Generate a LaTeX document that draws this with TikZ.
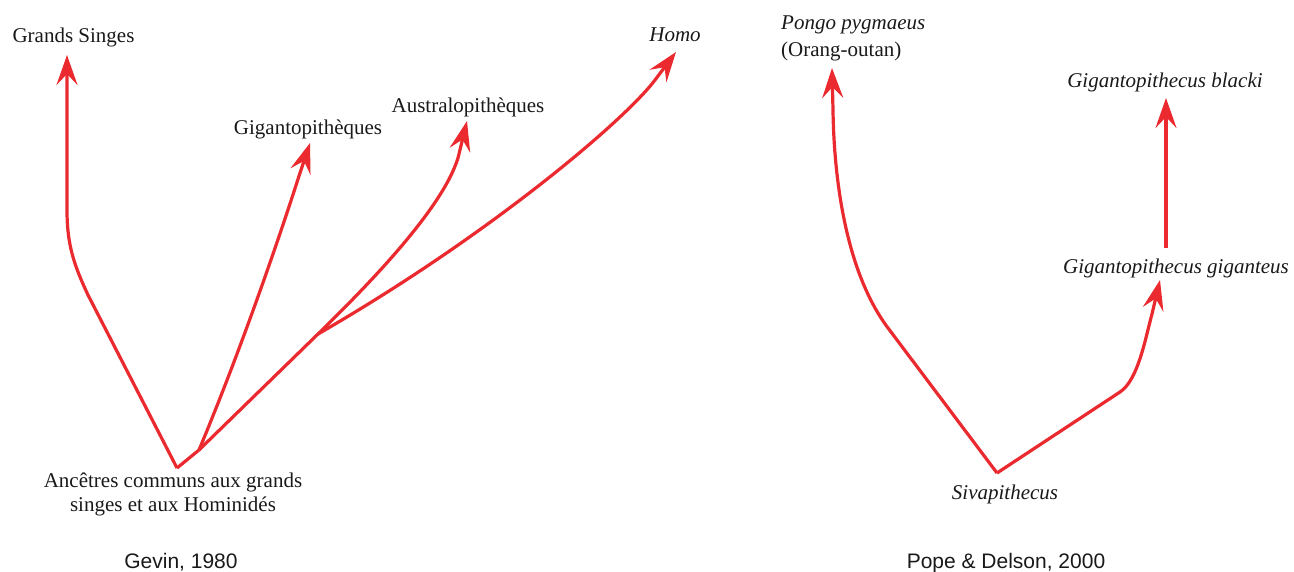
\documentclass[tikz,border=0pt]{standalone}
\usepackage{fontspec}
\setmainfont{Liberation Serif}
\newfontfamily\capfont{Liberation Sans}
\usetikzlibrary{arrows.meta}
\definecolor{arr}{RGB}{234,42,46}
\definecolor{txt}{RGB}{25,25,25}
\tikzset{
  branch/.style={draw=arr, line width=3.2pt, line join=round},
  tipped/.style={branch, -{Stealth[length=30pt, width=21pt, inset=11pt]}},
  lbl/.style={inner sep=0pt, anchor=base, text=txt, font=\fontsize{21}{24}\selectfont},
  ilbl/.style={lbl, font=\fontsize{21}{24}\selectfont\itshape},
  captionlbl/.style={inner sep=0pt, anchor=base, text=txt, font=\capfont\fontsize{21}{24}\selectfont}
}
\begin{document}
\begin{tikzpicture}[x=1pt, y=-1pt]
\useasboundingbox (0,0) rectangle (1294,572);
% ---------- left tree (Gevin 1980) ----------
\node[lbl] (gs) at (73.5,43) {Grands Singes};
\node[lbl] (gig) at (308,135) {Gigantopithèques};
\node[lbl] (aus) at (468,113) {Australopithèques};
\node[ilbl] (homo) at (675,42) {Homo};
\node[lbl, align=center] (anc) at (173,511) {Ancêtres communs aux grands\\singes et aux Hominidés};
\node[captionlbl] (gevin) at (181,568) {Gevin, 1980};

\coordinate (root) at (177,468);
\coordinate (j1) at (199,450);
\coordinate (j2) at (318,334);
\coordinate (gsbend) at (88,295);
\coordinate (gsup) at (67,210);
\coordinate (gstip) at (67,55);
\coordinate (gigpre) at (299,176);
\coordinate (gigtip) at (310,143);
\coordinate (auspre) at (458,158);
\coordinate (austip) at (467,121);
\coordinate (homopre) at (655,80);
\coordinate (homotip) at (676,52);

\draw[tipped] (root) -- (gsbend) .. controls (74,265) and (67,245) .. (gsup) -- (gstip);
\draw[branch] (root) -- (j1);
\draw[tipped] (j1) .. controls (245,340) and (285,220) .. (gigpre) -- (gigtip);
\draw[branch] (j1) -- (j2);
\draw[tipped] (j2) .. controls (365,288) and (442,210) .. (auspre) -- (austip);
\draw[tipped] (j2) .. controls (490,235) and (625,120) .. (homopre) -- (homotip);

% ---------- right tree (Pope & Delson 2000) ----------
\node[ilbl, anchor=base west] (pongo) at (781,30) {Pongo pygmaeus};
\node[lbl, anchor=base west] (orang) at (781,57) {(Orang-outan)};
\node[ilbl] (blacki) at (1165,88) {Gigantopithecus blacki};
\node[ilbl] (gigan) at (1176,273) {Gigantopithecus giganteus};
\node[ilbl] (siva) at (1005,499) {Sivapithecus};
\node[captionlbl] (pope) at (1006,568) {Pope \& Delson, 2000};

\coordinate (sroot) at (997,473);
\coordinate (pbend) at (888,328);
\coordinate (ppre) at (833,110);
\coordinate (ptip) at (832,68);
\coordinate (rbend) at (1120,392);
\coordinate (gpre) at (1152,314);
\coordinate (gtip) at (1160,280);
\coordinate (bbase) at (1166,248);
\coordinate (btip) at (1166,98);

\draw[tipped] (sroot) -- (pbend) .. controls (846,272) and (834,180) .. (ppre) -- (ptip);
\draw[tipped] (sroot) -- (rbend) .. controls (1138,380) and (1145,340) .. (gpre) -- (gtip);
\draw[tipped] (bbase) -- (btip);
\end{tikzpicture}
\end{document}
